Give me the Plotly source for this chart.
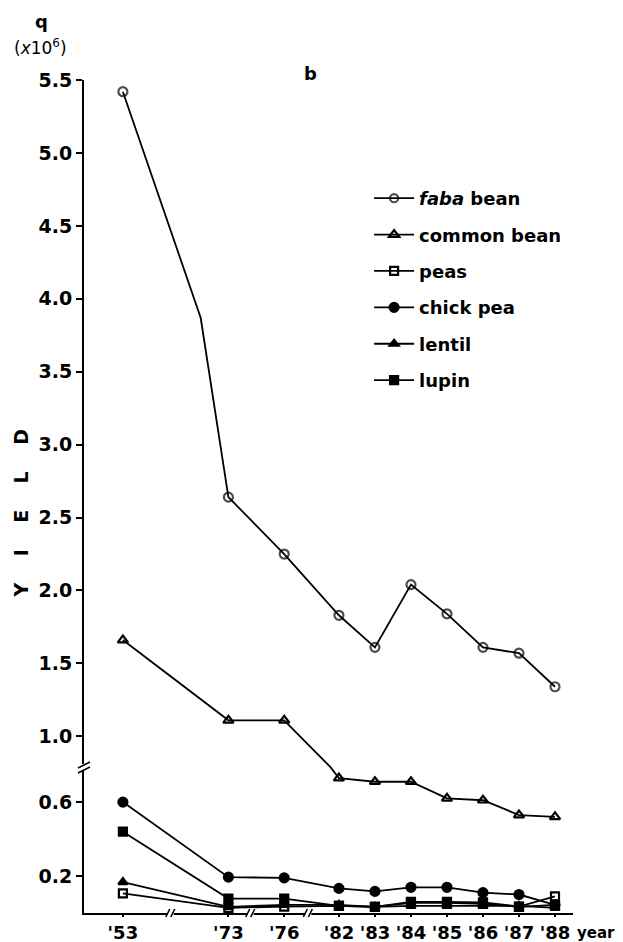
import plotly.graph_objects as go
from plotly.subplots import make_subplots

# ---------------- data (q x 10^6) ----------------
years = ["'53", "'73", "'76", "'82", "'83", "'84", "'85", "'86", "'87", "'88"]
faba_bean = [5.42, 2.64, 2.25, 1.83, 1.61, 2.04, 1.84, 1.61, 1.57, 1.34]
faba_bend = 3.87  # unmarked bend of the drawn faba bean line between '53 and '73
common_bean = [1.66, 1.11, 1.11, 0.73, 0.71, 0.71, 0.62, 0.61, 0.53, 0.52]
peas = [0.106, 0.028, 0.035, 0.039, 0.033, 0.060, 0.060, 0.058, 0.035, 0.090]
chick_pea = [0.60, 0.194, 0.19, 0.133, 0.117, 0.139, 0.139, 0.110, 0.100, 0.044]
lentil = [0.167, 0.033, 0.044, 0.044, 0.033, 0.039, 0.039, 0.039, 0.039, 0.028]
lupin = [0.44, 0.078, 0.078, 0.039, 0.033, 0.055, 0.055, 0.050, 0.033, 0.044]

upper_ticks = [1.0, 1.5, 2.0, 2.5, 3.0, 3.5, 4.0, 4.5, 5.0, 5.5]
lower_ticks = [0.2, 0.6]

# ---------------- layout constants (broken axes) ----------------
slots = [0, 2.93, 4.48, 6, 7, 8, 9, 10, 11, 12]   # compressed year axis
bend_slot = 2.16
x_break_slots = [1.33, 3.55, 5.15]
BREAK = 0.79
LOWER_FRAC = 0.1753
PAGE_PAD = 8  # default page body margin

FONT = "DejaVu Sans"
tick_font = dict(family=FONT, size=19, color="black", weight="bold")

fig = make_subplots(rows=2, cols=1, shared_xaxes=True, vertical_spacing=0,
                    row_heights=[1 - LOWER_FRAC, LOWER_FRAC])

line = dict(color="black", width=1.8)


def mk(symbol, size=8):
    return dict(symbol=symbol, size=size, color="black",
                line=dict(color="black", width=2.2))


# upper panel
fx = [slots[0], bend_slot] + slots[1:]
fy = [faba_bean[0], faba_bend] + faba_bean[1:]
fs = [9, 0] + [9] * (len(faba_bean) - 1)
fig.add_trace(go.Scatter(x=fx, y=fy, mode="lines+markers", name="<i>faba</i> bean",
                         legendgroup="a", line=line,
                         marker=dict(symbol="circle-open", size=fs, color="black",
                                     line=dict(color="black", width=2.2))), row=1, col=1)
fig.add_trace(go.Scatter(x=slots, y=common_bean, mode="lines+markers", name="common bean",
                         legendgroup="b", line=line, marker=mk("triangle-up-open", 9)),
              row=1, col=1)
# lower panel
fig.add_trace(go.Scatter(x=slots, y=peas, mode="lines+markers", name="peas",
                         legendgroup="c", line=line, marker=mk("square-open", 8)), row=2, col=1)
fig.add_trace(go.Scatter(x=slots, y=chick_pea, mode="lines+markers", name="chick pea",
                         legendgroup="d", line=line, marker=mk("circle", 9)), row=2, col=1)
fig.add_trace(go.Scatter(x=slots, y=lentil, mode="lines+markers", name="lentil",
                         legendgroup="e", line=line, marker=mk("triangle-up", 8)), row=2, col=1)
fig.add_trace(go.Scatter(x=slots, y=lupin, mode="lines+markers", name="lupin",
                         legendgroup="f", line=line, marker=mk("square", 8)), row=2, col=1)
fig.add_trace(go.Scatter(x=slots, y=common_bean, mode="lines+markers", showlegend=False,
                         legendgroup="b", line=line, marker=mk("triangle-up-open", 9)),
              row=2, col=1)

axis_common = dict(showgrid=False, zeroline=False, automargin=False)
xr = [-1.08, 12.5]
fig.update_layout(
    template="none",
    xaxis=dict(range=xr, showline=False, showticklabels=False, ticks="", **axis_common),
    xaxis2=dict(range=xr, showline=True, linecolor="black", linewidth=2, ticks="outside",
                ticklen=2, tickwidth=1.5, tickcolor="black",
                tickvals=slots, ticktext=years,
                tickfont=dict(family=FONT, size=18, color="black", weight="bold"),
                **axis_common),
    yaxis=dict(range=[BREAK, 5.5], tickvals=upper_ticks,
               ticktext=[f"{v:.1f}" for v in upper_ticks],
               showline=True, linecolor="black", linewidth=2, ticks="outside",
               ticklen=6, tickwidth=1.5, tickcolor="black", tickfont=tick_font,
               **axis_common),
    yaxis2=dict(range=[0, BREAK], tickvals=lower_ticks,
                ticktext=[f"{v:.1f}" for v in lower_ticks],
                showline=True, linecolor="black", linewidth=2, ticks="outside",
                ticklen=6, tickwidth=1.5, tickcolor="black", tickfont=tick_font,
                **axis_common),
)

shapes = []
# y-axis break: gap + two slanted strokes
shapes.append(dict(type="rect", xref="paper", yref="paper", xsizemode="pixel",
                   ysizemode="pixel", xanchor=0, yanchor=LOWER_FRAC,
                   x0=-2, x1=2, y0=-3, y1=3, fillcolor="white", line=dict(width=0)))
for dy in (-3, 2):
    shapes.append(dict(type="line", xref="paper", yref="paper", xsizemode="pixel",
                       ysizemode="pixel", xanchor=0, yanchor=LOWER_FRAC,
                       x0=-6, x1=6, y0=dy - 3, y1=dy + 3,
                       line=dict(color="black", width=1.6)))
# x-axis breaks
for s in x_break_slots:
    shapes.append(dict(type="rect", xref="x2", yref="paper", xsizemode="pixel",
                       ysizemode="pixel", xanchor=s, yanchor=0,
                       x0=-3, x1=3, y0=-2, y1=2, fillcolor="white", line=dict(width=0)))
    for dx in (-3, 2):
        shapes.append(dict(type="line", xref="x2", yref="paper", xsizemode="pixel",
                           ysizemode="pixel", xanchor=s, yanchor=0,
                           x0=dx - 2, x1=dx + 2, y0=-4, y1=4,
                           line=dict(color="black", width=1.6)))

ann = [
    dict(xref="paper", yref="paper", x=-0.086, y=1.07, text="q", showarrow=False,
         xanchor="center", yanchor="middle",
         font=dict(family=FONT, size=18, color="black", weight="bold")),
    dict(xref="paper", yref="paper", x=-0.088, y=1.04, text="(<i>x</i>10<sup>6</sup>)",
         showarrow=False, xanchor="center", yanchor="middle",
         font=dict(family=FONT, size=17, color="black")),
    dict(xref="paper", yref="paper", x=0.463, y=1.008, text="b", showarrow=False,
         xanchor="center", yanchor="middle",
         font=dict(family=FONT, size=18, color="black", weight="bold")),
    dict(xref="paper", yref="paper", x=-0.128, y=0.48, text="Y    I    E    L    D",
         textangle=-90, showarrow=False, xanchor="center", yanchor="middle",
         font=dict(family=FONT, size=19, color="black", weight="bold")),
    dict(xref="paper", yref="paper", x=1.089, y=-0.011, xanchor="right", yanchor="top",
         text="year", showarrow=False,
         font=dict(family=FONT, size=15, color="black", weight="bold")),
]

fig.update_layout(
    width=623 - PAGE_PAD, height=942 - PAGE_PAD,
    margin=dict(l=84 - PAGE_PAD, r=50, t=80 - PAGE_PAD, b=29),
    plot_bgcolor="white", paper_bgcolor="white",
    annotations=ann, shapes=shapes,
    legend=dict(x=0.583, y=0.88, xanchor="left", yanchor="top",
                bgcolor="rgba(0,0,0,0)", tracegroupgap=10, itemwidth=40,
                font=dict(family=FONT, size=18, color="black", weight="bold")),
)

fig.write_html("out.html")
